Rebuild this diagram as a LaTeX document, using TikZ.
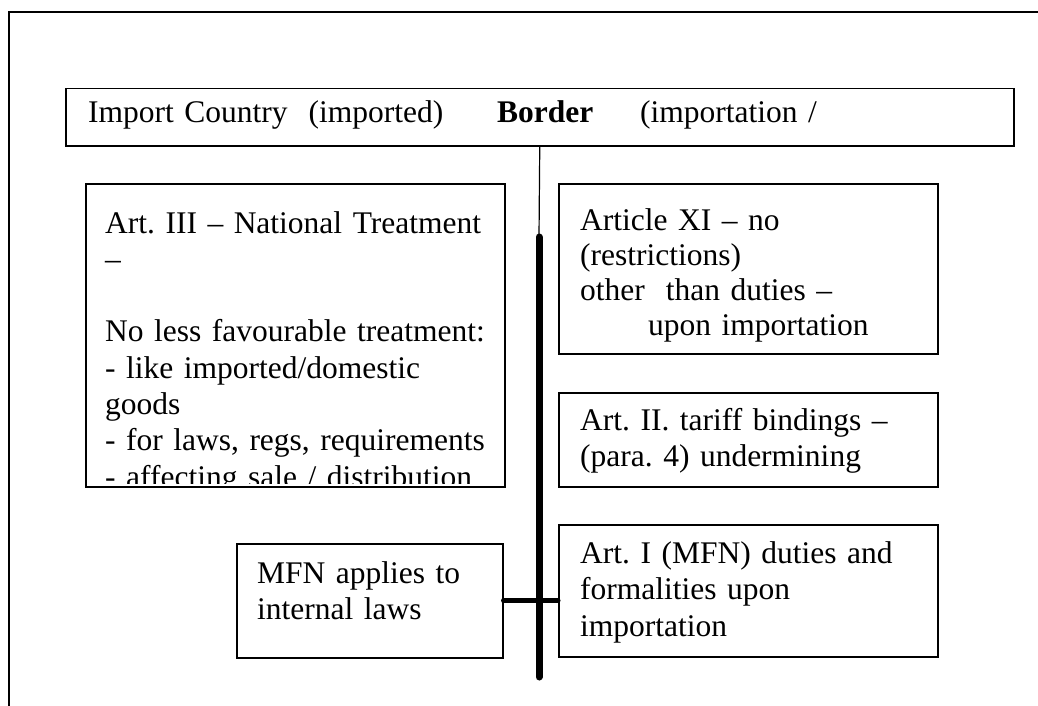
\documentclass[tikz,border=0pt]{standalone}
\usepackage{fontspec}
\setmainfont{Liberation Serif}
\usetikzlibrary{positioning}
\frenchspacing

\tikzset{
    panel/.style={draw, line width=1.5pt, inner sep=0pt, anchor=north west},
    txt/.style={anchor=base west, inner sep=0pt, align=left, text width=#1,
        font=\fontsize{31.5}{36.8}\selectfont},
    txt/.default=500pt,
    spine/.style={line width=7pt, line cap=round}
}

\begin{document}
\begin{tikzpicture}[x=1pt, y=-1pt]
        \useasboundingbox (0,0) rectangle (1038,706);

        % Frame
        \coordinate (fr1) at (1038,12);
        \coordinate (fr2) at (9,12);
        \coordinate (fr3) at (9,706);
        \draw[line width=2pt] (fr1) -- (fr2) -- (fr3);

        % Border bar
        \node[panel, minimum width=948pt, minimum height=57pt] (bar) at (65,88) {};
        \node[txt] (imp) at (88,123) {Import Country~ (imported)};
        \node[txt] (brd) at (497,123) {\textbf{Border}};
        \node[txt] (expt) at (640,123) {(importation /};

        % Boxes
        \node[panel, minimum width=419pt, minimum height=303pt] (art3) at (85,183) {};
        \node[panel, minimum width=379pt, minimum height=170pt] (art11) at (558,183) {};
        \node[panel, minimum width=379pt, minimum height=94pt] (art2) at (558,392) {};
        \node[panel, minimum width=379pt, minimum height=132pt] (art1) at (558,524) {};
        \node[panel, minimum width=266pt, minimum height=114pt] (mfn) at (236,543) {};

        % Texts
        \begin{scope}
            \clip (art3.north west) rectangle ([yshift=4pt]art3.south east);
            \node[txt, font=\fontsize{31.5}{36.3}\selectfont] (art3txt) at (105,233)
                {Art. III -- National Treatment\\ --\\ \mbox{}\\
                 No less favourable treatment:\\ - like imported/domestic\\ goods\\
                 - for laws, regs, requirements\\ - affecting sale / distribution};
        \end{scope}
        \node[txt, font=\fontsize{31.5}{35}\selectfont] (art11txt) at (580,230)
            {Article XI -- no\\ (restrictions)\\ other~ than duties --\\
             \hspace*{68pt}upon importation};
        \node[txt] (art2txt) at (580,430)
            {Art. II. tariff bindings --\\ (para. 4) undermining};
        \node[txt] (art1txt) at (580,563)
            {Art. I (MFN) duties and\\ formalities upon\\ importation};
        \node[txt] (mfntxt) at (257,583)
            {MFN applies to\\ internal laws};

        % Border line
        \coordinate (sp1) at (539,237);
        \coordinate (sp2) at (539,677);
        \draw[line width=1.2pt] (bar.south) -- (sp1);
        \draw[spine] (sp1) -- (sp2);
        \draw[line width=5pt, line cap=round] (mfn.east) -- (mfn.east -| art1.west);
\end{tikzpicture}
\end{document}
